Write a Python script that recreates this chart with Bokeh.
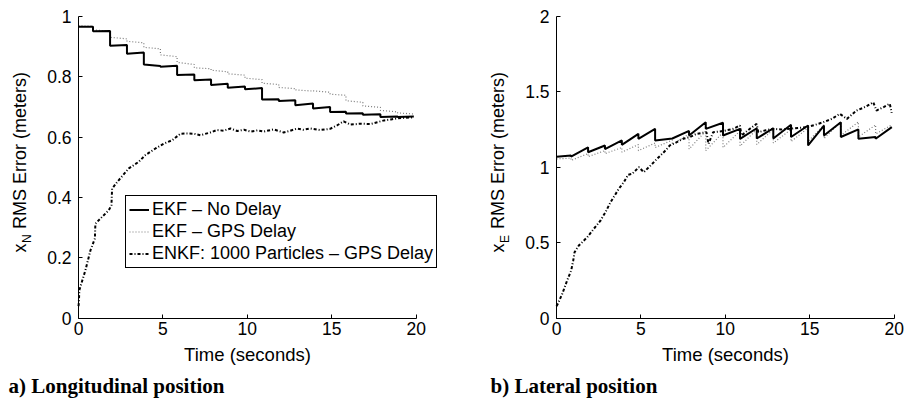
import math
from bokeh.plotting import figure
from bokeh.models import Label, Legend, LegendItem, FixedTicker, LinearAxis, Range1d
from bokeh.embed import file_html
from bokeh.resources import INLINE

# ---------------- data ----------------
x_ticks = [0, 5, 10, 15, 20]
x_tick_labels = ["0", "5", "10", "15", "20"]
lon_y_ticks = [0, 0.2, 0.4, 0.6, 0.8, 1.0]
lon_y_tick_labels = ["0", "0.2", "0.4", "0.6", "0.8", "1"]
lat_y_ticks = [0, 0.5, 1.0, 1.5, 2.0]
lat_y_tick_labels = ["0", "0.5", "1", "1.5", "2"]

series_names = ["EKF \u2013 No Delay", "EKF \u2013 GPS Delay", "ENKF: 1000 Particles \u2013 GPS Delay"]
captions = ["a) Longitudinal position", "b) Lateral position"]
x_label = "Time (seconds)"
y_label_rest = "RMS Error (meters)"
y_label_subs = ["N", "E"]

# times (s) of the GPS-update jumps, and end time of the runs
step_times = [0.86, 1.87, 2.87, 3.87, 4.85, 5.84, 6.86, 7.85, 8.84, 9.86,
              10.87, 11.86, 12.84, 13.89, 14.9, 15.84, 16.84, 17.88, 18.9]
t_end = 19.86

# Longitudinal: EKF no delay (value at start / end of each update interval)
lon_ekf_start = [0.965, 0.950, 0.902, 0.876, 0.840, 0.833, 0.805, 0.788, 0.772, 0.763,
                 0.758, 0.724, 0.719, 0.705, 0.694, 0.683, 0.678, 0.674, 0.666, 0.666]
lon_ekf_end = [0.965, 0.951, 0.905, 0.880, 0.835, 0.836, 0.807, 0.790, 0.776, 0.767,
               0.762, 0.725, 0.722, 0.711, 0.699, 0.684, 0.679, 0.675, 0.668, 0.668]
# Longitudinal: EKF GPS delay
lon_ekfd_start = [0.968, 0.955, 0.930, 0.917, 0.897, 0.872, 0.847, 0.829, 0.821, 0.809,
                  0.795, 0.778, 0.764, 0.756, 0.753, 0.742, 0.720, 0.703, 0.688, 0.680]
lon_ekfd_end = [0.967, 0.950, 0.925, 0.912, 0.892, 0.866, 0.840, 0.826, 0.816, 0.805,
                0.790, 0.774, 0.760, 0.752, 0.748, 0.738, 0.715, 0.698, 0.683, 0.676]
# Longitudinal: EnKF
lon_enkf_t = [0.0, 0.02, 0.05, 0.41, 0.71, 0.97, 1.0, 1.3, 1.8, 1.95,
              1.99, 2.29, 2.98, 3.57, 3.96, 4.56, 5.05, 5.54, 6.04, 6.4,
              6.82, 7.22, 7.81, 8.2, 8.6, 9.0, 9.4, 9.8, 10.2, 10.6,
              10.96, 11.56, 12.15, 12.5, 12.94, 13.3, 13.73, 14.3, 14.9, 15.3,
              15.7, 16.1, 16.7, 17.3, 17.7, 18.1, 18.5, 18.9, 19.4, 19.85]
lon_enkf_y = [0.04, 0.05, 0.093, 0.159, 0.225, 0.264, 0.313, 0.330, 0.358, 0.374,
              0.429, 0.451, 0.496, 0.518, 0.540, 0.562, 0.578, 0.589, 0.611, 0.612,
              0.611, 0.606, 0.615, 0.623, 0.621, 0.628, 0.620, 0.624, 0.618, 0.622,
              0.618, 0.625, 0.615, 0.620, 0.628, 0.624, 0.628, 0.623, 0.627, 0.638,
              0.652, 0.641, 0.644, 0.643, 0.649, 0.655, 0.658, 0.662, 0.664, 0.665]

# Lateral: EKF no delay
lat_ekf_start = [1.070, 1.070, 1.099, 1.120, 1.148, 1.188, 1.177, 1.190, 1.210, 1.254,
                 1.210, 1.188, 1.190, 1.190, 1.200, 1.144, 1.210, 1.200, 1.188, 1.188]
lat_ekf_end = [1.078, 1.132, 1.144, 1.177, 1.221, 1.254, 1.190, 1.240, 1.298, 1.294,
               1.254, 1.258, 1.258, 1.281, 1.276, 1.276, 1.298, 1.250, 1.200, 1.265]
# Lateral: EKF GPS delay
lat_ekfd_start = [1.055, 1.045, 1.070, 1.090, 1.100, 1.110, 1.130, 1.150, 1.120, 1.110,
                  1.130, 1.140, 1.150, 1.160, 1.170, 1.170, 1.190, 1.210, 1.200, 1.220]
lat_ekfd_end = [1.060, 1.090, 1.110, 1.130, 1.150, 1.160, 1.180, 1.220, 1.240, 1.230,
                1.240, 1.250, 1.250, 1.250, 1.260, 1.280, 1.300, 1.300, 1.280, 1.280]
# Lateral: EnKF
lat_enkf_t = [0.0, 0.08, 0.34, 0.63, 0.87, 0.99, 1.07, 1.32, 1.82, 2.21,
              2.61, 2.9, 3.2, 3.69, 3.99, 4.24, 4.48, 4.88, 5.17, 5.57,
              5.96, 6.46, 6.71, 7.1, 7.5, 7.9, 8.29, 8.88, 9.0, 9.28,
              9.9, 10.46, 10.86, 10.96, 11.4, 11.85, 11.95, 12.4, 12.83, 13.3,
              13.82, 14.3, 14.8, 15.3, 15.8, 16.3, 16.78, 17.2, 17.77, 18.3,
              18.76, 18.95, 19.4, 19.74, 19.85]
lat_enkf_y = [0.08, 0.095, 0.161, 0.25, 0.316, 0.382, 0.437, 0.481, 0.536, 0.592,
              0.647, 0.702, 0.768, 0.857, 0.901, 0.95, 0.956, 1.0, 0.967, 1.011,
              1.056, 1.111, 1.144, 1.165, 1.188, 1.2, 1.221, 1.232, 1.155, 1.232,
              1.24, 1.254, 1.276, 1.21, 1.25, 1.287, 1.232, 1.245, 1.254, 1.25,
              1.254, 1.26, 1.265, 1.28, 1.298, 1.32, 1.353, 1.32, 1.375, 1.40,
              1.43, 1.375, 1.40, 1.42, 1.36]

# ---------------- layout (pixels) ----------------
W, H = 905, 400
PANEL_LEFT = [78, 556]       # pixel x of t = 0 in each panel
PANEL_W = 337.7              # pixel width of 0..20 s
PANEL_TOP, PANEL_BOTTOM = 15.7, 317.7
X_MAX = 20.0
Y_MAX = [1.0, 2.0]

SANS = "Liberation Sans"
SERIF = "Liberation Serif"


def sawtooth(starts, ends):
    bounds = [0.0] + step_times + [t_end]
    xs, ys = [], []
    for k in range(len(starts)):
        xs += [bounds[k], bounds[k + 1]]
        ys += [starts[k], ends[k]]
    return xs, ys


p = figure(width=W, height=H, x_range=Range1d(0, W), y_range=Range1d(0, H),
           x_axis_type=None, y_axis_type=None,
           output_backend="svg", toolbar_location=None,
           min_border=0, min_border_left=0, min_border_right=0,
           min_border_top=0, min_border_bottom=0)
p.title.visible = False
p.outline_line_color = None
p.grid.visible = False
p.background_fill_color = "white"
p.border_fill_color = "white"


def style_axis(ax):
    ax.axis_line_color = "black"
    ax.axis_line_width = 1
    ax.major_tick_line_color = "black"
    ax.major_tick_in = 4
    ax.major_tick_out = 0
    ax.minor_tick_line_color = None
    ax.major_label_text_font = SANS
    ax.major_label_text_font_size = "17.5px"
    ax.major_label_text_color = "black"


panels = [
    dict(ekf=(lon_ekf_start, lon_ekf_end), ekfd=(lon_ekfd_start, lon_ekfd_end),
         enkf=(lon_enkf_t, lon_enkf_y), yticks=lon_y_ticks, ylabels=lon_y_tick_labels),
    dict(ekf=(lat_ekf_start, lat_ekf_end), ekfd=(lat_ekfd_start, lat_ekfd_end),
         enkf=(lat_enkf_t, lat_enkf_y), yticks=lat_y_ticks, ylabels=lat_y_tick_labels),
]

legend_renderers = None
for i, pan in enumerate(panels):
    kx = PANEL_W / X_MAX
    ky = (PANEL_BOTTOM - PANEL_TOP) / Y_MAX[i]
    xn, yn = "x%d" % i, "y%d" % i
    p.extra_x_ranges[xn] = Range1d(-PANEL_LEFT[i] / kx, (W - PANEL_LEFT[i]) / kx)
    p.extra_y_ranges[yn] = Range1d(-(H - PANEL_BOTTOM) / ky, PANEL_BOTTOM / ky)

    xs, ys = sawtooth(*pan["ekfd"])
    r2 = p.line(xs, ys, line_color="#7a7a7a", line_width=1.2, line_dash="1 2",
                x_range_name=xn, y_range_name=yn)
    xs, ys = sawtooth(*pan["ekf"])
    r1 = p.line(xs, ys, line_color="black", line_width=2,
                x_range_name=xn, y_range_name=yn)
    r3 = p.line(pan["enkf"][0], pan["enkf"][1], line_color="black", line_width=2,
                line_dash="3 2 1 2", x_range_name=xn, y_range_name=yn)
    if legend_renderers is None:
        legend_renderers = [r1, r2, r3]

    xax = LinearAxis(x_range_name=xn, y_range_name=yn, fixed_location=0,
                     bounds=(0, X_MAX))
    style_axis(xax)
    xax.ticker = FixedTicker(ticks=x_ticks)
    xax.major_label_overrides = {t: l for t, l in zip(x_ticks, x_tick_labels)}
    xax.major_label_standoff = 4
    xax.axis_label = x_label
    xax.axis_label_text_font = SANS
    xax.axis_label_text_font_size = "18.5px"
    xax.axis_label_text_font_style = "normal"
    xax.axis_label_text_color = "black"
    xax.axis_label_standoff = 5
    p.add_layout(xax, "below")

    yax = LinearAxis(x_range_name=xn, y_range_name=yn, fixed_location=0,
                     bounds=(0, Y_MAX[i]))
    style_axis(yax)
    yax.ticker = FixedTicker(ticks=pan["yticks"])
    yax.major_label_overrides = {t: l for t, l in zip(pan["yticks"], pan["ylabels"])}
    yax.major_label_standoff = 7
    p.add_layout(yax, "left")

    # rotated y label: "x" + subscript + rest (screen units, y measured from bottom)
    bx = PANEL_LEFT[i] - 49
    by = H - 252
    common = dict(x_units="screen", y_units="screen", angle=math.pi / 2,
                  text_font=SANS, text_color="black", text_align="left",
                  text_baseline="bottom")
    p.add_layout(Label(x=bx, y=by, text="x", text_font_size="18px", **common))
    p.add_layout(Label(x=bx + 4, y=by + 9.5, text=y_label_subs[i],
                       text_font_size="12px", **common))
    p.add_layout(Label(x=bx, y=by + 23.5, text=y_label_rest, text_font_size="18px", **common))

    # caption
    p.add_layout(Label(x=[8, 490][i], y=2.5, x_units="screen", y_units="screen",
                       text=captions[i], text_font=SERIF, text_font_style="bold",
                       text_font_size="21px", text_color="black",
                       text_baseline="bottom"))

legend = Legend(items=[LegendItem(label=series_names[k], renderers=[legend_renderers[k]])
                       for k in range(3)],
                location=(125, H - 267.7))
legend.border_line_color = "black"
legend.border_line_width = 1
legend.border_line_alpha = 1
legend.background_fill_color = "white"
legend.background_fill_alpha = 1
legend.label_text_font = SANS
legend.label_text_font_size = "18px"
legend.label_text_color = "black"
legend.glyph_width = 20
legend.glyph_height = 21
legend.label_height = 21
legend.label_standoff = 3
legend.padding = 3
legend.spacing = 1
legend.margin = 0
p.add_layout(legend)

open("out.html", "w").write(file_html(p, INLINE))
